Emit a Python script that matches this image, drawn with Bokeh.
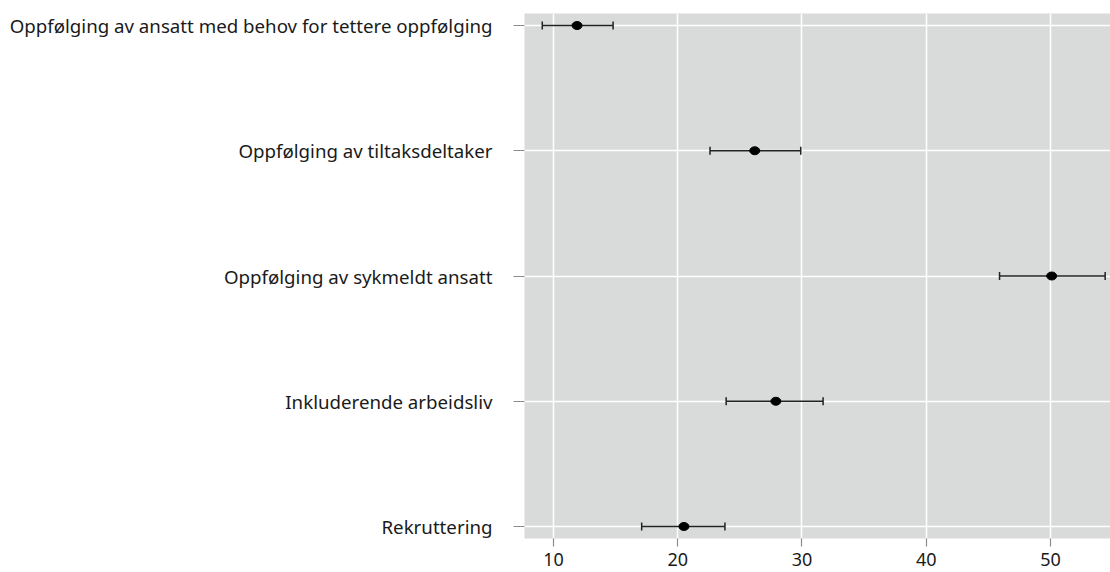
from bokeh.plotting import figure
from bokeh.models import Range1d, FixedTicker, Whisker, ColumnDataSource, TeeHead
from bokeh.embed import file_html
from bokeh.resources import INLINE

categories = [
    "Rekruttering",
    "Inkluderende arbeidsliv",
    "Oppfølging av sykmeldt ansatt",
    "Oppfølging av tiltaksdeltaker",
    "Oppfølging av ansatt med behov for tettere oppfølging",
]
estimate = [20.5, 27.9, 50.1, 26.2, 11.9]
lower = [17.1, 23.9, 45.9, 22.6, 9.1]
upper = [23.8, 31.7, 54.4, 29.9, 14.8]
x_ticks = [10, 20, 30, 40, 50]

positions = list(range(1, len(categories) + 1))
source = ColumnDataSource(dict(y=positions, est=estimate, lo=lower, hi=upper))

FONT = "Noto Sans"

p = figure(
    width=1110, height=572,
    output_backend="svg", toolbar_location=None,
    x_range=Range1d(7.67, 54.83), y_range=Range1d(0.904, 5.096),
    min_border_left=524, min_border_right=0, min_border_top=13, min_border_bottom=34,
)
p.background_fill_color = "#D9DADA"
p.border_fill_color = "white"
p.outline_line_color = None

w = Whisker(source=source, base="y", lower="lo", upper="hi", dimension="width",
            line_color="#222222", line_width=1.5,
            lower_head=TeeHead(size=8, line_color="#222222", line_width=1.5),
            upper_head=TeeHead(size=8, line_color="#222222", line_width=1.5))
p.add_layout(w)

p.ellipse(x="est", y="y", width=10, height=8, width_units="screen", height_units="screen",
          source=source, fill_color="black", line_color="black", line_width=1)

p.xaxis.ticker = FixedTicker(ticks=x_ticks)
p.xgrid.ticker = FixedTicker(ticks=x_ticks)
p.yaxis.ticker = FixedTicker(ticks=positions)
p.ygrid.ticker = FixedTicker(ticks=positions)
p.yaxis.major_label_overrides = {i: c for i, c in zip(positions, categories)}

for g in (p.xgrid, p.ygrid):
    g.grid_line_color = "white"
    g.grid_line_width = 1.5

for ax in (p.xaxis, p.yaxis):
    ax.axis_line_color = None
    ax.major_tick_in = 0
    ax.minor_tick_line_color = None
    ax.major_tick_line_color = "#8c8c8c"
    ax.major_tick_line_width = 1.2
    ax.major_label_text_font = FONT
    ax.major_label_text_color = "#1a1a1a"

p.yaxis.major_label_text_font_size = "18.7px"
p.xaxis.major_label_text_font_size = "18px"
p.yaxis.major_tick_out = 11
p.yaxis.major_label_standoff = 21
p.xaxis.major_tick_out = 8
p.xaxis.major_label_standoff = 6

open("out.html", "w").write(file_html(p, INLINE))
